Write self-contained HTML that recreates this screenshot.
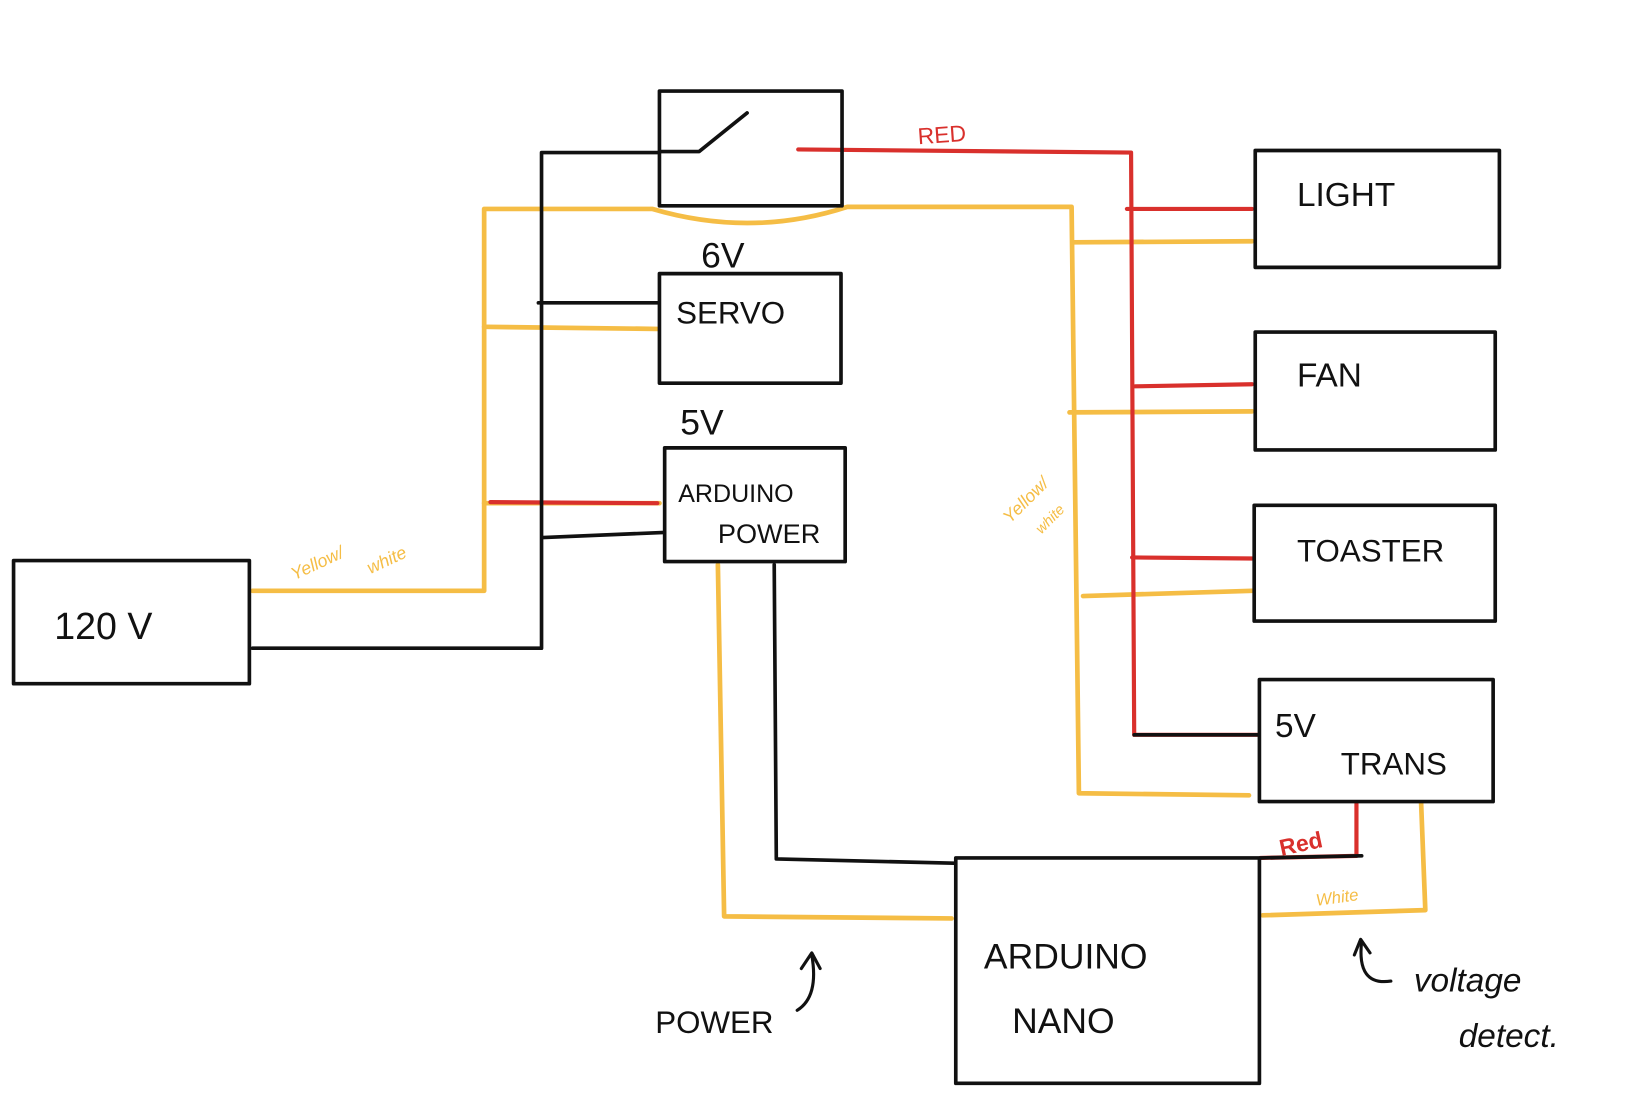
<!DOCTYPE html>
<html><head><style>
body{margin:0;background:#fff}
svg{display:block}
text{font-family:"Liberation Sans",sans-serif}
</style></head><body>
<svg width="1634" height="1118" viewBox="0 0 1566 1071" xmlns="http://www.w3.org/2000/svg">
<g fill="none" stroke-linecap="round" stroke-linejoin="round">
<g stroke="#f5bd45" stroke-width="4.5">
<path d="M242 566 L464 566 L464 200 L625 200 Q720 228 812 198 L1027 198 L1034 760 L1197 762"/>
<path d="M464 313 L630 315"/>
<path d="M464 482 L632 482"/>
<path d="M1028 232 L1200 231"/>
<path d="M1025 395 L1200 394"/>
<path d="M1038 571 L1200 566"/>
<path d="M688 541 L694 878 L912 880"/>
<path d="M1362 770 L1366 872 L1210 877"/>
</g>
<g stroke="#d9302c" stroke-width="4">
<path d="M765 143 L1084 146 L1087 704 L1205 704"/>
<path d="M1080 200 L1200 200"/>
<path d="M1088 370 L1200 368"/>
<path d="M1085 534 L1200 535"/>
<path d="M470 481 L630 482"/>
<path d="M1300 770 L1300 820 L1208 822"/>
</g>
<g stroke="#111" stroke-width="3.5">
<path d="M242 621 L519 621 L519 146 L632 146"/>
<path d="M516 290 L630 290"/>
<path d="M520 515 L637 510"/>
<path d="M742 541 L744 823 L914 827"/>
<path d="M632 145 L670 145 L716 108"/>
<path d="M1087 704 L1205 704"/>
<path d="M1208 822 L1305 820"/>
</g>
<g stroke="#111" stroke-width="3.5">
<rect x="632" y="87" width="175" height="110"/>
<rect x="632" y="262" width="174" height="105"/>
<rect x="637" y="429" width="173" height="109"/>
<rect x="13" y="537" width="226" height="118"/>
<rect x="1203" y="144" width="234" height="112"/>
<rect x="1203" y="318" width="230" height="113"/>
<rect x="1202" y="484" width="231" height="111"/>
<rect x="1207" y="651" width="224" height="117"/>
<rect x="916" y="822" width="291" height="216"/>
</g>
<g stroke="#111" stroke-width="3">
<path d="M764 968 Q785 955 778 915"/>
<path d="M768 928 L778 913 L786 928"/>
<path d="M1305 902 Q1300 945 1333 940"/>
<path d="M1298 915 L1304 900 L1313 913"/>
</g>
</g>
<g fill="#111" font-size="34">
<text x="52" y="612" font-size="36">120 V</text>
<text x="672" y="256">6V</text>
<text x="652" y="416">5V</text>
<text x="648" y="310" font-size="30">SERVO</text>
<text x="650" y="481" font-size="24">ARDUINO</text>
<text x="688" y="520" font-size="26">POWER</text>
<text x="1243" y="197" font-size="32">LIGHT</text>
<text x="1243" y="370" font-size="32">FAN</text>
<text x="1243" y="538" font-size="30">TOASTER</text>
<text x="1222" y="706" font-size="32">5V</text>
<text x="1285" y="742" font-size="30">TRANS</text>
<text x="943" y="928" font-size="34">ARDUINO</text>
<text x="970" y="990" font-size="34">NANO</text>
<text x="628" y="990" font-size="30">POWER</text>
<text x="1355" y="950" font-size="32" font-style="italic">voltage</text>
<text x="1398" y="1003" font-size="32" font-style="italic">detect.</text>
</g>
<g fill="#d9302c">
<text x="880" y="138" font-size="22" transform="rotate(-4 880 138)">RED</text>
<text x="1228" y="820" font-size="22" font-weight="bold" transform="rotate(-12 1228 820)">Red</text>
</g>
<g fill="#f5bd45" font-size="17" font-style="italic">
<text x="282" y="556" transform="rotate(-25 282 556)">Yellow/</text>
<text x="355" y="550" transform="rotate(-25 355 550)">white</text>
<text x="968" y="502" transform="rotate(-45 968 502)">Yellow/</text>
<text x="998" y="512" font-size="14" transform="rotate(-45 998 512)">white</text>
<text x="1262" y="868" font-size="16" transform="rotate(-8 1262 868)">White</text>
</g>
</svg>
</body></html>
